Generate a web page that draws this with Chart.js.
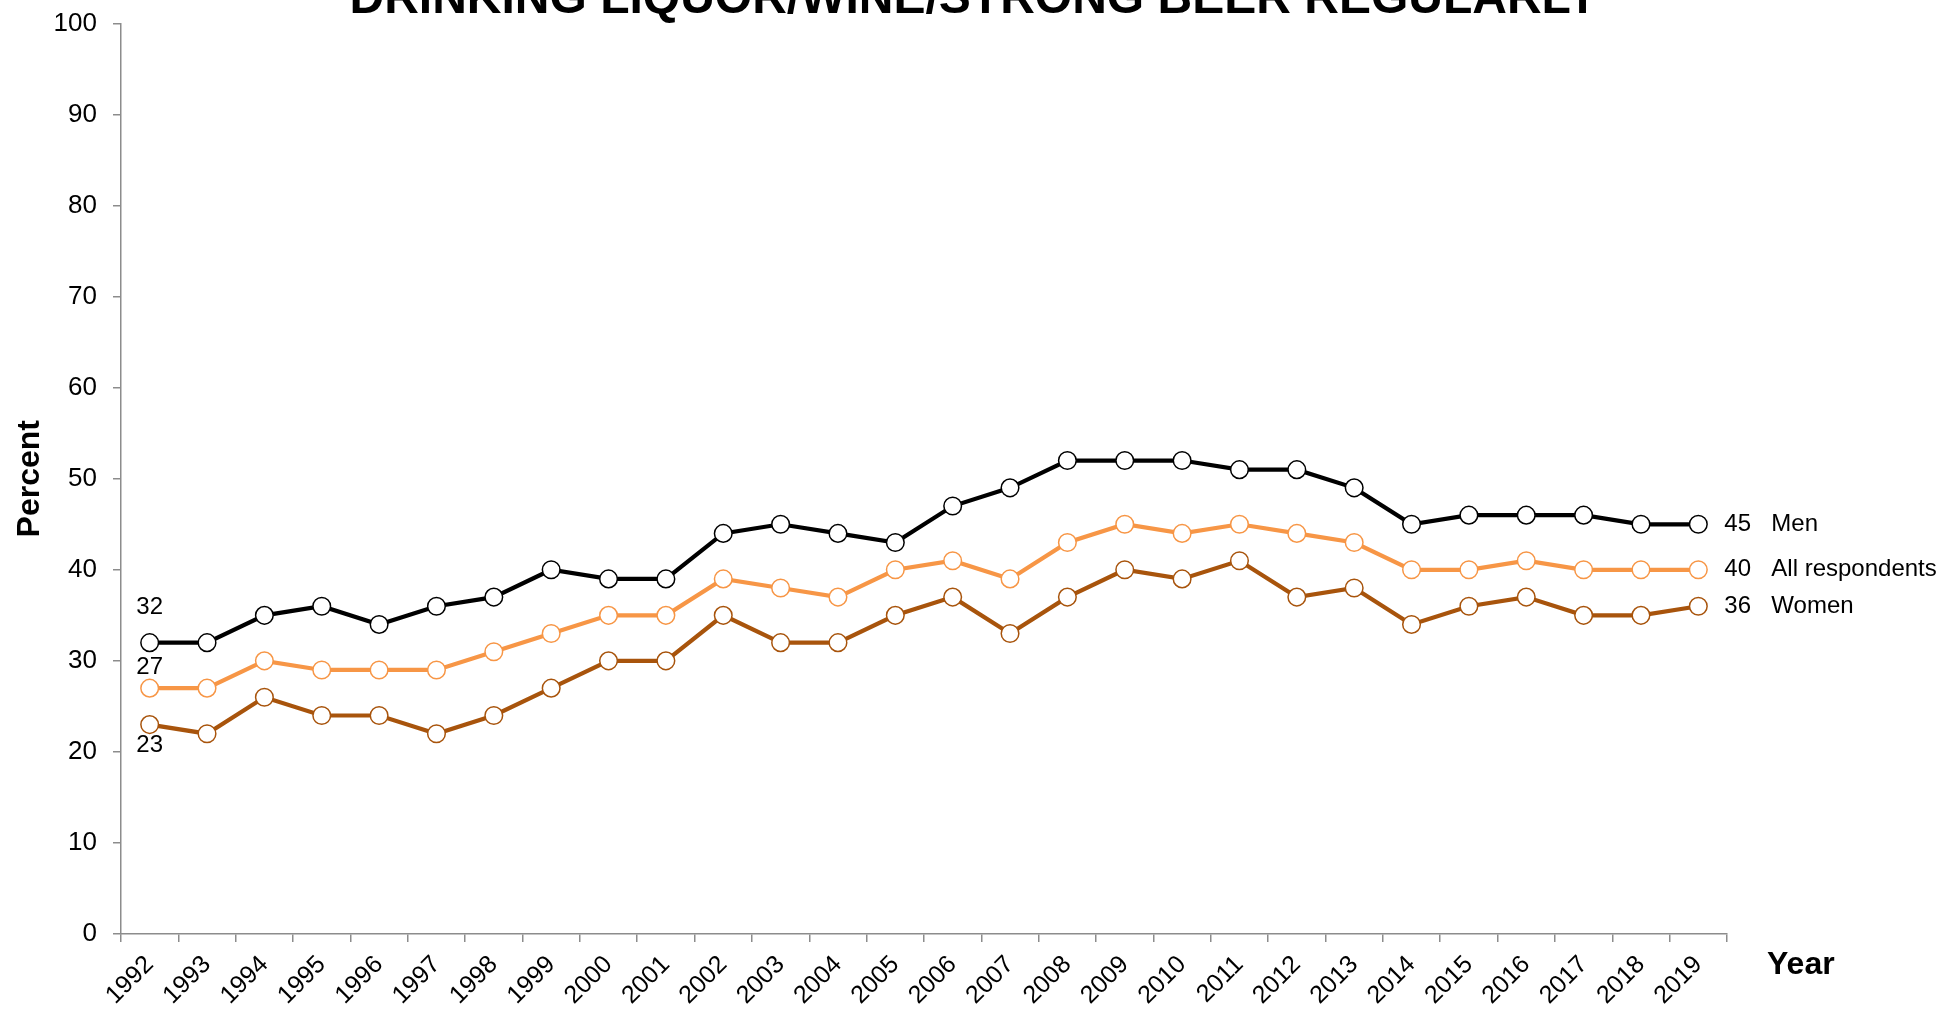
<!DOCTYPE html>
<html lang="en">
<head>
<meta charset="UTF-8">
<title>Drinking liquor/wine/strong beer regularly</title>
<script src="https://cdn.jsdelivr.net/npm/chart.js@4.4.0/dist/chart.umd.min.js"></script>
<style>
  html, body { margin: 0; padding: 0; background: #fff; }
  #wrap { position: relative; width: 1940px; height: 1009px; }
</style>
</head>
<body>
<div id="wrap"><canvas id="chart"></canvas></div>
<script>
const years = ['1992','1993','1994','1995','1996','1997','1998','1999','2000','2001',
               '2002','2003','2004','2005','2006','2007','2008','2009','2010','2011',
               '2012','2013','2014','2015','2016','2017','2018','2019'];
const men     = [32,32,35,36,34,36,37,40,39,39,44,45,44,43,47,49,52,52,52,51,51,49,45,46,46,46,45,45];
const allResp = [27,27,30,29,29,29,31,33,35,35,39,38,37,40,41,39,43,45,44,45,44,43,40,40,41,40,40,40];
const women   = [23,22,26,24,24,22,24,27,30,30,35,32,32,35,37,33,37,40,39,41,37,38,34,36,37,35,35,36];
const yTicks  = [0, 10, 20, 30, 40, 50, 60, 70, 80, 90, 100];
const chartTitle = 'DRINKING LIQUOR/WINE/STRONG BEER REGULARLY';

const FONT = 'Arial, "Liberation Sans", sans-serif';
const AXIS_GREY = '#8c8c8c';

function series(label, data, color) {
    return {
        label: label,
        data: data,
        borderColor: color,
        borderWidth: 4.2,
        pointRadius: 8.8,
        pointHoverRadius: 8.8,
        pointBorderWidth: 1.5,
        pointBackgroundColor: '#fff',
        pointBorderColor: color,
        tension: 0,
    }
}

// title (runs off the top of the picture), value labels at the first point,
// "value + name" labels after the last point, and the "Year" title past the axis end
const firstOffset = [-35, -21, 21];
const sideLabels = {
    id: 'sideLabels',
    afterDatasetsDraw(chart) {
        const ctx = chart.ctx;
        const last = years.length - 1;
        ctx.save();
        ctx.fillStyle = '#000';

        ctx.font = 'bold 48px ' + FONT;
        ctx.textAlign = 'center';
        ctx.textBaseline = 'alphabetic';
        ctx.fillText(chartTitle, chart.width / 2 + 4, 12.5);

        ctx.textBaseline = 'middle';
        ctx.font = '24px ' + FONT;
        chart.data.datasets.forEach((ds, i) => {
            const pts = chart.getDatasetMeta(i).data;
            ctx.textAlign = 'center';
            ctx.fillText(ds.data[0], pts[0].x, pts[0].y + firstOffset[i]);
            ctx.textAlign = 'left';
            ctx.fillText(ds.data[last], pts[last].x + 26, pts[last].y);
            ctx.fillText(ds.label, pts[last].x + 73, pts[last].y);
        });
        ctx.font = 'bold 32px ' + FONT;
        ctx.textAlign = 'left';
        ctx.fillText('Year', chart.chartArea.right + 40, chart.chartArea.bottom + 31);
        ctx.restore();
    }
};

new Chart(document.getElementById('chart'), {
    type: 'line',
    data: {
        labels: years,
        datasets: [
            series('Men', men, '#000000'),
            series('All respondents', allResp, '#f79646'),
            series('Women', women, '#a8540c'),
        ]
    },
    options: {
        responsive: true,
        maintainAspectRatio: false,
        animation: false,
        events: [],
        layout: { padding: { left: 6, right: 213, top: 23.5, bottom: 0 } },
        plugins: {
            legend: { display: false },
            tooltip: { enabled: false },
            title: { display: false },
        },
        scales: {
            x: {
                offset: true,
                afterFit: (scale) => { scale.height = 75 },
                grid: { display: true, offset: true, drawOnChartArea: false, drawTicks: true, tickLength: 8, color: AXIS_GREY, lineWidth: 1.5 },
                border: { display: true, color: AXIS_GREY, width: 1.5 },
                ticks: { color: '#000', font: { family: FONT, size: 25 }, minRotation: 45, maxRotation: 45, padding: 8, autoSkip: false },
            },
            y: {
                min: 0,
                max: 100,
                afterBuildTicks: (scale) => { scale.ticks = yTicks.map(v => ({ value: v })) },
                afterFit: (scale) => { scale.width = 115; scale.paddingTop = 0; scale.paddingBottom = 0 },
                grid: { display: true, drawOnChartArea: false, drawTicks: true, tickLength: 8, color: AXIS_GREY, lineWidth: 1.5 },
                border: { display: true, color: AXIS_GREY, width: 1.5 },
                ticks: { color: '#000', font: { family: FONT, size: 26 }, padding: 16 },
                title: {
                    display: true,
                    text: 'Percent',
                    color: '#000',
                    font: { family: FONT, size: 32, weight: 'bold', lineHeight: 1.2 },
                    padding: { top: 5, bottom: 15 },
                },
            },
        },
    },
    plugins: [sideLabels],
});
</script>
</body>
</html>
